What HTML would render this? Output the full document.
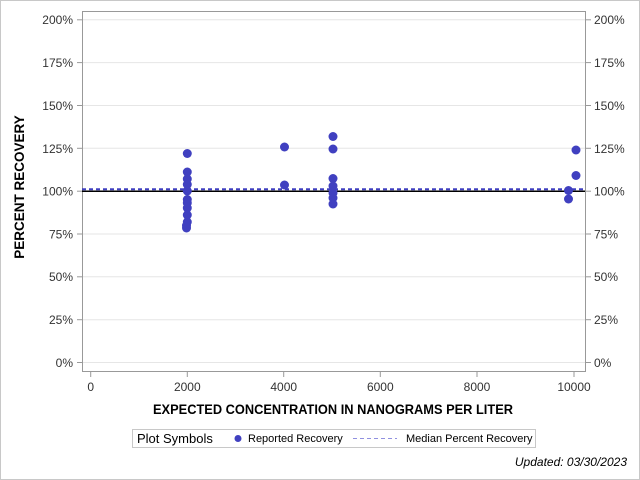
<!DOCTYPE html>
<html><head><style>body{margin:0;background:#fff}svg{display:block}</style></head><body>
<svg width="640" height="480" xmlns="http://www.w3.org/2000/svg" font-family="Liberation Sans, sans-serif">
<rect x="0.5" y="0.5" width="639" height="479" fill="#fff" stroke="#c8c8c8"/>
<g stroke="#e6e6e6" stroke-width="1">
<line x1="82" x2="585" y1="19.8" y2="19.8"/><line x1="82" x2="585" y1="62.6" y2="62.6"/>
<line x1="82" x2="585" y1="105.5" y2="105.5"/><line x1="82" x2="585" y1="148.3" y2="148.3"/>
<line x1="82" x2="585" y1="234" y2="234"/><line x1="82" x2="585" y1="276.8" y2="276.8"/>
<line x1="82" x2="585" y1="319.7" y2="319.7"/><line x1="82" x2="585" y1="362.5" y2="362.5"/>
</g>
<rect x="82.5" y="11.5" width="503" height="360" fill="none" stroke="#999"/>
<g stroke="#999">
<line x1="77" x2="82" y1="19.8" y2="19.8"/><line x1="77" x2="82" y1="62.6" y2="62.6"/><line x1="77" x2="82" y1="105.5" y2="105.5"/><line x1="77" x2="82" y1="148.3" y2="148.3"/><line x1="77" x2="82" y1="191.2" y2="191.2"/><line x1="77" x2="82" y1="234" y2="234"/><line x1="77" x2="82" y1="276.8" y2="276.8"/><line x1="77" x2="82" y1="319.7" y2="319.7"/><line x1="77" x2="82" y1="362.5" y2="362.5"/>
<line x1="586" x2="591" y1="19.8" y2="19.8"/><line x1="586" x2="591" y1="62.6" y2="62.6"/><line x1="586" x2="591" y1="105.5" y2="105.5"/><line x1="586" x2="591" y1="148.3" y2="148.3"/><line x1="586" x2="591" y1="191.2" y2="191.2"/><line x1="586" x2="591" y1="234" y2="234"/><line x1="586" x2="591" y1="276.8" y2="276.8"/><line x1="586" x2="591" y1="319.7" y2="319.7"/><line x1="586" x2="591" y1="362.5" y2="362.5"/>
<line x1="90.7" x2="90.7" y1="372" y2="377"/><line x1="187.3" x2="187.3" y1="372" y2="377"/><line x1="283.7" x2="283.7" y1="372" y2="377"/><line x1="380.3" x2="380.3" y1="372" y2="377"/><line x1="477" x2="477" y1="372" y2="377"/><line x1="574" x2="574" y1="372" y2="377"/>
</g>
<g font-size="12" fill="#333" text-anchor="end">
<text x="73" y="24">200%</text><text x="73" y="67">175%</text><text x="73" y="110">150%</text><text x="73" y="153">125%</text><text x="73" y="195.5">100%</text><text x="73" y="238.5">75%</text><text x="73" y="281">50%</text><text x="73" y="324">25%</text><text x="73" y="367">0%</text>
</g>
<g font-size="12" fill="#333" text-anchor="start">
<text x="594" y="24">200%</text><text x="594" y="67">175%</text><text x="594" y="110">150%</text><text x="594" y="153">125%</text><text x="594" y="195.5">100%</text><text x="594" y="238.5">75%</text><text x="594" y="281">50%</text><text x="594" y="324">25%</text><text x="594" y="367">0%</text>
</g>
<g font-size="12" fill="#333" text-anchor="middle">
<text x="90.7" y="391">0</text><text x="187.3" y="391">2000</text><text x="283.7" y="391">4000</text><text x="380.3" y="391">6000</text><text x="477" y="391">8000</text><text x="574" y="391">10000</text>
</g>
<text x="153" y="414" font-size="13.5" font-weight="bold" fill="#000" textLength="360" lengthAdjust="spacingAndGlyphs">EXPECTED CONCENTRATION IN NANOGRAMS PER LITER</text>
<text transform="translate(24,187) rotate(-90)" font-size="13.5" font-weight="bold" text-anchor="middle" fill="#000">PERCENT RECOVERY</text>
<line x1="82" x2="585" y1="191.2" y2="191.2" stroke="#000" stroke-width="1.5"/>
<line x1="82" x2="585" y1="189.3" y2="189.3" stroke="#4040c0" stroke-width="2" stroke-dasharray="4,3"/>
<g fill="#4040c0">
<circle cx="187.3" cy="153.5" r="4.5"/><circle cx="187.3" cy="172" r="4.5"/><circle cx="187.3" cy="179" r="4.5"/><circle cx="187.3" cy="184.5" r="4.5"/><circle cx="187.3" cy="191" r="4.5"/><circle cx="187.3" cy="199.5" r="4.5"/><circle cx="187.3" cy="203" r="4.5"/><circle cx="187.3" cy="208" r="4.5"/><circle cx="187.3" cy="215" r="4.5"/><circle cx="187.3" cy="222" r="4.5"/><circle cx="186.5" cy="225.5" r="4.5"/><circle cx="186.5" cy="228" r="4.5"/>
<circle cx="284.5" cy="147" r="4.5"/><circle cx="284.5" cy="185" r="4.5"/>
<circle cx="333" cy="136.5" r="4.5"/><circle cx="333" cy="149" r="4.5"/><circle cx="333" cy="178.5" r="4.5"/><circle cx="333" cy="186" r="4.5"/><circle cx="333" cy="193" r="4.5"/><circle cx="333" cy="198" r="4.5"/><circle cx="333" cy="204" r="4.5"/>
<circle cx="576" cy="150" r="4.5"/><circle cx="576" cy="175.5" r="4.5"/><circle cx="568.5" cy="190.5" r="4.5"/><circle cx="568.5" cy="199" r="4.5"/>
</g>
<rect x="132.5" y="429.5" width="403" height="18" fill="#fff" stroke="#c8c8c8"/>
<text x="137" y="443" font-size="13" fill="#000">Plot Symbols</text>
<circle cx="238" cy="438.5" r="3.5" fill="#4040c0"/>
<text x="248" y="442" font-size="11" fill="#000">Reported Recovery</text>
<line x1="353" x2="397" y1="438.5" y2="438.5" stroke="#9090e0" stroke-dasharray="4,3"/>
<text x="406" y="442" font-size="11" fill="#000">Median Percent Recovery</text>
<text x="627" y="466" font-size="12" font-style="italic" text-anchor="end" fill="#000">Updated: 03/30/2023</text>
</svg>
</body></html>
